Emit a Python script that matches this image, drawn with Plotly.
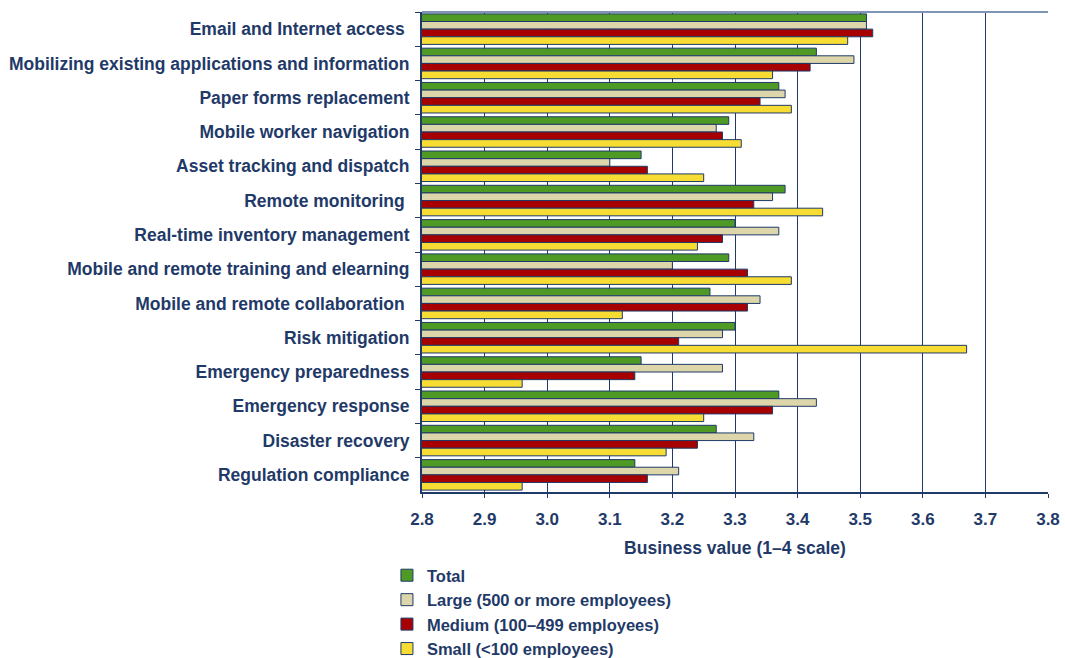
import plotly.graph_objects as go

categories = [
    "Email and Internet access\u00a0",
    "Mobilizing existing applications and information",
    "Paper forms replacement",
    "Mobile worker navigation",
    "Asset tracking and dispatch",
    "Remote monitoring\u00a0",
    "Real-time inventory management",
    "Mobile and remote training and elearning",
    "Mobile and remote collaboration\u00a0",
    "Risk mitigation",
    "Emergency preparedness",
    "Emergency response",
    "Disaster recovery",
    "Regulation compliance",
]

total = [3.51, 3.43, 3.37, 3.29, 3.15, 3.38, 3.30, 3.29, 3.26, 3.30, 3.15, 3.37, 3.27, 3.14]
large = [3.51, 3.49, 3.38, 3.27, 3.10, 3.36, 3.37, 3.20, 3.34, 3.28, 3.28, 3.43, 3.33, 3.21]
medium = [3.52, 3.42, 3.34, 3.28, 3.16, 3.33, 3.28, 3.32, 3.32, 3.21, 3.14, 3.36, 3.24, 3.16]
small = [3.48, 3.36, 3.39, 3.31, 3.25, 3.44, 3.24, 3.39, 3.12, 3.67, 2.96, 3.25, 3.19, 2.96]

series_names = [
    "Total",
    "Large (500 or more employees)",
    "Medium (100\u2013499 employees)",
    "Small (<100 employees)",
]
series_values = [total, large, medium, small]
series_colors = ["#4E9A24", "#DDD6AA", "#A60000", "#F7DC33"]

x_ticks = [2.8, 2.9, 3.0, 3.1, 3.2, 3.3, 3.4, 3.5, 3.6, 3.7, 3.8]

NAVY = "#1F3A68"
FONT = "Liberation Sans, Arial, sans-serif"

fig = go.Figure()
for i, (name, vals, col) in enumerate(zip(series_names, series_values, series_colors)):
    fig.add_trace(go.Bar(
        y=categories, x=vals, name=name, orientation="h",
        marker=dict(color=col, line=dict(color=NAVY, width=1)),
        legendgroup="g%d" % i,
    ))

fig.update_layout(
    width=1065, height=658,
    margin=dict(l=422, r=17, t=12, b=166),
    paper_bgcolor="white", plot_bgcolor="white",
    barmode="group", bargap=0.11, bargroupgap=0,
    font=dict(family=FONT, size=17, color=NAVY),
    showlegend=True,
    legend=dict(
        xref="paper", yref="container",
        x=-0.056, xanchor="left", y=0.152, yanchor="top",
        orientation="v", traceorder="normal",
        font=dict(family=FONT, size=16.5, color=NAVY, weight="bold"),
        tracegroupgap=2, bgcolor="rgba(0,0,0,0)",
        itemwidth=30,
    ),
    xaxis=dict(
        range=[2.8, 3.8], tickvals=x_ticks, tickformat=".1f",
        showgrid=True, gridcolor=NAVY, gridwidth=1,
        showline=True, linecolor=NAVY, linewidth=2,
        ticks="outside", ticklen=4, tickcolor=NAVY,
        ticklabelstandoff=7,
        tickfont=dict(family=FONT, size=17, color=NAVY, weight="bold"),
        title=dict(text="Business value (1\u20134 scale)", standoff=17,
                   font=dict(family=FONT, size=17.5, color=NAVY, weight="bold")),
        zeroline=False, automargin=False,
    ),
    yaxis=dict(
        autorange="reversed",
        showline=True, linecolor=NAVY, linewidth=2,
        ticks="outside", ticklen=5, tickcolor=NAVY, tickson="boundaries",
        tickfont=dict(family=FONT, size=17.5, color=NAVY, weight="bold"),
        ticklabelstandoff=7,
        showgrid=False, automargin=False,
    ),
    shapes=[dict(type="line", xref="paper", yref="paper", x0=0, x1=1, y0=1, y1=1,
                 line=dict(color="#7F95B8", width=2))],
)

fig.write_html("out.html")
